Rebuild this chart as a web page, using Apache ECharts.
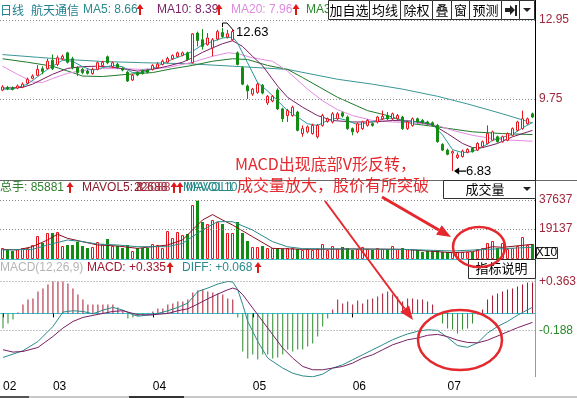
<!DOCTYPE html>
<html>
<head>
<meta charset="utf-8">
<script src="https://cdn.jsdelivr.net/npm/echarts@6/dist/echarts.min.js"></script>
<style>
html, body { margin: 0; padding: 0; background: #fff; }
#chart { width: 577px; height: 398px; }
</style>
</head>
<body>
<div id="chart"></div>
<script>
// 日K线 [开, 收, 低, 高]
const candles = [
  [10.11,10.24,10.07,10.31],[10.22,10.16,10.11,10.28],[10.20,10.14,10.10,10.26],[10.19,10.28,10.15,10.34],[10.23,10.35,10.19,10.42],
  [10.39,10.55,10.35,10.62],[10.59,10.68,10.55,10.75],[10.71,10.95,10.68,11.12],[10.98,10.87,10.75,11.08],[10.98,11.28,10.95,11.38],
  [11.32,10.98,10.92,11.55],[11.15,11.42,11.08,11.51],[11.38,11.48,11.32,11.55],[11.62,11.24,11.19,11.66],[11.38,11.02,10.95,11.46],
  [11.02,10.82,10.68,11.08],[10.95,10.82,10.75,11.02],[10.88,10.79,10.74,10.95],[10.78,10.95,10.74,11.02],[10.95,11.22,10.91,11.27],
  [11.11,11.24,11.06,11.30],[11.46,11.22,11.16,11.51],[11.06,11.22,11.00,11.27],[11.16,11.03,10.98,11.22],[10.99,10.92,10.87,11.04],
  [10.84,10.48,10.44,10.90],[10.52,10.71,10.48,10.76],[10.82,10.72,10.67,10.87],[10.88,10.78,10.74,10.95],[10.92,10.83,10.79,10.98],
  [10.95,11.11,10.90,11.16],[11.02,11.16,10.98,11.24],[11.15,11.28,11.11,11.35],[11.24,11.39,11.20,11.46],[11.38,11.51,11.34,11.56],
  [11.47,11.62,11.43,11.67],[11.52,11.62,11.48,11.67],[11.62,11.35,11.30,11.67],[11.22,12.39,11.19,12.42],[12.42,12.12,11.88,12.48],
  [12.15,11.88,11.75,12.58],[11.95,12.22,11.91,12.42],[11.82,12.15,11.48,12.22],[12.18,12.48,12.12,12.55],[12.44,12.28,12.23,12.63],
  [12.26,12.39,12.20,12.55],[12.15,12.48,12.10,12.55],[11.62,11.15,11.11,11.68],[11.02,10.35,10.31,11.08],[10.28,10.08,9.75,10.34],
  [9.95,10.15,9.88,10.20],[10.02,10.35,9.96,10.42],[10.31,9.99,9.94,10.36],[9.59,9.86,9.51,9.91],[9.67,9.86,9.62,9.91],
  [10.11,9.35,9.30,10.18],[9.35,8.95,8.82,9.40],[9.08,9.28,8.82,9.35],[9.08,9.42,9.03,9.48],[9.22,8.48,8.44,9.27],
  [8.35,8.55,8.22,8.68],[8.42,8.62,8.36,8.68],[8.35,8.68,8.31,8.75],[8.22,8.68,8.15,8.74],[8.68,9.08,8.63,9.15],
  [8.84,8.95,8.79,9.00],[8.82,9.15,8.76,9.22],[8.95,9.15,8.90,9.22],[9.19,9.06,9.00,9.24],[9.02,8.55,8.50,9.08],
  [8.55,8.42,8.28,8.60],[8.42,8.75,8.36,8.80],[8.55,8.82,8.50,8.87],[8.68,8.88,8.63,8.94],[8.75,8.68,8.63,8.80],
  [8.82,9.02,8.76,9.07],[8.95,9.04,8.90,9.28],[9.08,8.95,8.90,9.22],[8.95,9.15,8.90,9.20],[8.95,9.08,8.90,9.14],
  [9.02,8.55,8.50,9.07],[8.55,8.82,8.50,8.87],[8.68,8.95,8.63,9.00],[8.95,8.82,8.76,9.00],[8.88,8.79,8.75,8.94],
  [8.82,8.75,8.71,8.87],[8.79,8.68,8.64,8.84],[8.68,8.02,7.98,8.74],[7.91,7.68,7.64,7.96],[7.68,7.51,7.47,7.74],
  [7.56,7.62,6.83,7.67],[7.38,7.48,7.32,7.59],[7.42,7.64,7.38,7.70],[7.59,7.71,7.55,7.76],[7.75,7.62,7.58,7.80],
  [7.68,7.95,7.64,8.00],[7.82,8.02,7.78,8.07],[7.95,8.35,7.91,8.68],[8.08,8.42,8.04,8.47],[8.22,8.02,7.98,8.27],
  [8.02,8.22,7.98,8.27],[8.08,8.35,8.04,8.40],[8.28,8.55,8.24,8.60],[8.48,8.82,8.44,8.87],[8.55,8.95,8.51,9.28],
  [8.75,8.95,8.71,9.00],[9.15,9.02,8.98,9.20]
];

// 成交量 (X10)
const volumes = [
  7018,5742,5104,6380,7018,7018,8932,14674,10208,16588,
  16588,17226,8294,8932,8932,10846,8294,7018,7656,10846,
  9570,12760,8294,8294,7018,8932,5104,7018,7018,7018,
  9570,8932,7018,17864,13398,17226,15312,15950,34452,37200,
  23606,22330,24882,23606,22330,16588,16588,23606,16588,11484,
  7656,7656,8294,7018,7018,7018,6380,7018,7018,6380,
  5742,6380,5742,6380,9570,5742,8294,6380,7656,7018,
  5742,6380,7656,6380,5742,7018,6380,6380,8294,6380,
  7018,6380,6380,5742,4466,5104,5104,5742,4466,4466,
  4466,4466,4466,4466,4466,6380,7018,10208,11484,7018,
  10208,6380,7018,8294,14036,8932,9570
];

// MACD 柱
const macdBars = [
  -0.168,-0.112,-0.067,0.01,0.101,0.157,0.168,0.246,0.28,0.325,
  0.358,0.358,0.358,0.336,0.28,0.213,0.157,0.101,0.101,0.101,
  0.101,0.101,0.101,0.067,0.034,-0.056,-0.045,-0.034,-0.022,0.005,
  0.022,0.056,0.056,0.101,0.112,0.134,0.134,0.157,0.235,0.258,
  0.269,0.246,0.235,0.224,0.213,0.168,0.157,-0.045,-0.426,-0.504,
  -0.459,-0.515,-0.459,-0.459,-0.504,-0.493,-0.459,-0.403,-0.426,-0.403,
  -0.403,-0.37,-0.336,-0.258,-0.146,-0.056,0.045,0.157,0.112,0.134,
  0.101,0.146,0.112,0.157,0.168,0.19,0.224,0.246,0.213,0.19,
  0.134,0.168,0.168,0.157,0.157,0.134,0.101,0.005,-0.112,-0.168,
  -0.179,-0.224,-0.179,-0.168,-0.112,-0.011,0.045,0.157,0.202,0.224,
  0.246,0.269,0.28,0.302,0.325,0.347,0.347
];

// 均线 [序号, 值]
const ma5 = [[0,10.15],[2,10.15],[5,10.35],[9,10.95],[12,11.32],[14,11.28],[16,11.06],[18,10.91],[20,11.02],[22,11.11],[24,11.06],[26,10.82],[28,10.82],[30,10.98],[33,11.28],[36,11.51],[38,11.68],[40,11.95],[42,12.08],[44,12.22],[46,12.26],[47,12.02],[49,11.22],[51,10.42],[53,10.08],[55,9.68],[57,9.28],[59,9.02],[61,8.75],[63,8.68],[65,8.88],[67,8.98],[69,8.88],[71,8.71],[73,8.79],[75,8.88],[77,8.98],[79,8.95],[81,8.82],[84,8.84],[86,8.71],[88,8.3],[90,7.7],[92,7.58],[94,7.62],[96,7.8],[98,8.07],[100,8.2],[102,8.32],[104,8.58],[106,8.8]];
const ma10 = [[0,10.19],[4,10.22],[6,10.35],[10,10.75],[13,10.99],[16,11.06],[19,11.08],[22,11.04],[25,10.95],[27,10.88],[30,10.95],[33,11.08],[36,11.24],[38,11.42],[40,11.64],[42,11.82],[44,11.99],[46,12.11],[48,11.88],[50,11.48],[52,11.1],[55,10.28],[57,9.82],[60,9.42],[63,9.08],[66,8.88],[70,8.82],[74,8.82],[78,8.88],[82,8.86],[86,8.71],[89,8.35],[92,7.95],[94,7.78],[96,7.78],[99,7.95],[102,8.22],[106,8.48]];
const ma20 = [[0,11.08],[3,10.75],[6,10.44],[8,10.42],[10,10.58],[13,10.79],[16,10.91],[20,10.98],[24,10.98],[28,10.95],[33,11.02],[38,11.24],[42,11.48],[45,11.62],[47,11.59],[50,11.42],[54,11.28],[57,10.88],[61,10.15],[64,9.68],[67,9.32],[70,9.08],[74,8.88],[78,8.82],[82,8.79],[87,8.68],[90,8.48],[94,8.28],[97,8.18],[100,8.1],[106,8.04]];
const ma30 = [[0,11.38],[5,11.24],[10,11.08],[14,10.82],[16,10.68],[20,10.66],[25,10.75],[30,10.82],[34,10.98],[38,11.11],[42,11.28],[46,11.38],[49,11.35],[53,11.11],[57,10.95],[60,10.62],[67,9.82],[73,9.28],[77,9.08],[82,8.75],[87,8.62],[94,8.42],[100,8.35],[106,8.31]];
const ma60 = [[0,11.55],[7,11.44],[13,11.35],[20,11.27],[28,11.22],[37,11.18],[46,11.08],[57,10.95],[67,10.55],[74,10.35],[80,10.15],[87,9.86],[93,9.55],[100,9.15],[106,8.78]];

const mavol5 = [[0,6168],[3,5743],[6,7870],[9,12124],[11,15800],[13,13187],[16,11060],[19,8933],[23,8295],[27,6806],[33,8933],[36,12124],[40,24886],[42,28300],[44,24886],[46,21695],[50,14251],[54,6806],[60,6168],[70,6381],[80,6168],[90,4041],[94,4679],[98,7870],[100,7444],[106,9359]];
const mavol10 = [[0,5743],[6,6168],[9,8933],[13,12124],[16,11060],[19,9571],[23,8933],[27,7870],[33,7870],[36,9997],[40,18505],[43,23822],[46,23822],[50,18505],[54,11060],[57,7800],[60,6600],[80,6168],[90,5105],[97,6168],[106,7444]];

const diff = [[0,-0.493],[4,-0.418],[7,-0.314],[10,-0.146],[12,0.015],[14,0.03],[16,0.022],[18,-0.004],[20,0.037],[22,0.067],[24,0.037],[26,-0.015],[27,-0.03],[30,-0.015],[33,0.03],[35,0.067],[37,0.116],[39,0.246],[41,0.284],[43,0.329],[45,0.358],[46,0.351],[47,0.265],[48,0.097],[49,-0.09],[51,-0.314],[53,-0.5],[54,-0.538],[56,-0.612],[58,-0.67],[60,-0.7],[62,-0.71],[64,-0.68],[66,-0.612],[68,-0.575],[70,-0.519],[72,-0.463],[74,-0.407],[76,-0.351],[78,-0.295],[80,-0.25],[81,-0.23],[83,-0.2],[85,-0.183],[87,-0.19],[89,-0.27],[91,-0.36],[93,-0.38],[95,-0.33],[97,-0.22],[99,-0.146],[101,-0.09],[103,-0.02],[105,0.04],[106,0.068]];
const dea = [[0,-0.407],[2,-0.433],[4,-0.426],[7,-0.381],[10,-0.258],[12,-0.164],[14,-0.09],[16,-0.045],[18,-0.022],[20,0],[22,0.022],[24,0.03],[26,0],[27,-0.015],[30,-0.015],[33,0],[35,0.03],[37,0.052],[39,0.105],[41,0.164],[43,0.217],[45,0.265],[46,0.284],[47,0.265],[48,0.209],[49,0.134],[51,-0.015],[53,-0.164],[54,-0.239],[56,-0.388],[58,-0.5],[60,-0.594],[62,-0.631],[64,-0.631],[66,-0.612],[68,-0.594],[70,-0.556],[72,-0.5],[74,-0.463],[76,-0.407],[78,-0.351],[80,-0.314],[81,-0.295],[83,-0.276],[85,-0.245],[87,-0.235],[89,-0.26],[91,-0.3],[93,-0.325],[95,-0.33],[97,-0.3],[100,-0.23],[103,-0.16],[106,-0.1]];

const monthStart = [0, 10, 30, 50, 70, 89];
const monthNames = ['02', '03', '04', '05', '06', '07'];
const priceTicks = [12.95, 9.75];
const volTicks = [37637, 19137];
const macdTicks = [0.363, -0.188];

const FONT = '"Liberation Sans", "Noto Sans CJK SC", sans-serif';
const CJK = '"Noto Sans CJK SC", sans-serif';
const RED = '#e8161c';
const GREEN = '#138c13';
const cats = candles.map((c, i) => String(i));

const chart = echarts.init(document.getElementById('chart'));

function tickLines(vals, colors, fmt) {
  return {
    silent: true, symbol: ['none', 'none'], animation: false,
    lineStyle: {type: [1, 2], color: '#8a8a8a', width: 1},
    label: {position: 'end', fontSize: 12, fontFamily: FONT, distance: 4},
    data: vals.map((v, k) => ({yAxis: v, label: {formatter: fmt(v), color: colors[k]}}))
  };
}

function line(data, color, xi) {
  return {type: 'line', xAxisIndex: xi, yAxisIndex: xi, data: data, symbol: 'none',
    lineStyle: {color: color, width: 1}, silent: true, z: 3};
}

// graphic helpers
function txt(x, y, s, fill, font, align, z) {
  return {type: 'text', x: x, y: y, z: z || 100,
    style: {text: s, fill: fill, font: font || ('12px ' + FONT), textAlign: align || 'left', align: align || 'left',
      textVerticalAlign: 'middle', verticalAlign: 'middle'}};
}
function box(x, y, w, h, z) {
  return {type: 'rect', z: z || 90, shape: {x: x + 0.5, y: y + 0.5, width: w, height: h},
    style: {fill: '#fff', stroke: '#303030', lineWidth: 1}};
}
function seg(x1, y1, x2, y2, color, w, z) {
  return {type: 'line', z: z || 95, shape: {x1: x1, y1: y1, x2: x2, y2: y2}, style: {stroke: color, lineWidth: w || 1}};
}
function arrow(x1, y1, x2, y2, w, color) {
  const a = Math.atan2(y2 - y1, x2 - x1), L = 14, W = 5.5;
  const bx = x2 - L * Math.cos(a), by = y2 - L * Math.sin(a);
  const nx = -Math.sin(a) * W, ny = Math.cos(a) * W;
  return [seg(x1, y1, bx, by, color, w, 110),
    {type: 'polygon', z: 110, shape: {points: [[x2, y2], [bx + nx, by + ny], [bx - nx, by - ny]]}, style: {fill: color}}];
}
// 红色上升箭头
function up(x, y) {
  return {type: 'polygon', z: 100, style: {fill: '#e01818'},
    shape: {points: [[x + 3, y - 6], [x + 6.5, y - 1], [x + 4, y - 1], [x + 4, y + 5], [x + 2, y + 5], [x + 2, y - 1], [x - 0.5, y - 1]]}};
}

const ANN = '#e4282e';
const graphics = [
  // frame
  seg(0, 180.5, 577, 180.5, '#6a6a6a', 1, 80),
  seg(535.5, 0, 535.5, 259, '#000', 1, 80),
  seg(535.5, 259, 535.5, 377, '#3cc0d0', 1, 80),
  // header
  txt(0, 10, '日线', '#1f7f8f', '12px ' + CJK),
  txt(31, 10, '航天通信', '#1f7f8f', '12px ' + CJK),
  txt(83, 10, 'MA5: 8.66', '#2a8a8a'), up(137, 10),
  txt(157, 10, 'MA10: 8.39', '#7a1f66'), up(216, 10),
  txt(231, 10, 'MA20: 7.96', '#e08ae0'), up(293, 10),
  txt(306, 10, 'MA30: 8.12', '#2a8a2a'),
  // volume header
  txt(0, 188, '总手: 85881', '#2f7f2f'), up(67, 188),
  txt(82, 188, 'MAVOL5: 8', '#8b1a2a'),
  txt(134, 188, '22688', '#8b1a2a'), txt(137, 188, '12088', '#b03a4a'),
  up(171, 188), up(177, 188),
  txt(183, 188, 'MAVOL10', '#2a8a8a'), txt(186, 188, 'MAVOL1', '#2a8a8a'),
  // MACD header
  txt(0, 268, 'MACD(12,26,9)', '#b4b4b4'),
  txt(87, 268, 'MACD: +0.335', '#a0182f'), up(167, 268),
  txt(182, 268, 'DIFF: +0.068', '#2a8a8a'), up(255, 268),
  // high marker
  {type: 'polyline', z: 95, shape: {points: [[222.5, 27], [222.5, 23], [227, 23], [234, 31]]}, style: {stroke: '#000', lineWidth: 1, fill: null}},
  // boxes
  box(443, 180, 92, 18),
  txt(485, 189, '成交量', '#000', '13px ' + CJK, 'center'),
  {type: 'polygon', z: 100, shape: {points: [[523, 187], [531, 187], [527, 191]]}, style: {fill: '#222'}},
  box(468, 259, 67, 19, 105),
  txt(501.5, 268.5, '指标说明', '#000', '13px ' + CJK, 'center', 106),
  box(536, 247, 21, 11),
  txt(546.5, 252.5, 'X10', '#000', '12px ' + FONT, 'center'),
  // bottom strip
  {type: 'rect', z: 80, shape: {x: 0, y: 396, width: 577, height: 2}, style: {fill: '#c8c8c8'}},
  {type: 'rect', z: 81, shape: {x: 0, y: 396, width: 29, height: 2}, style: {fill: '#555'}},
  {type: 'rect', z: 81, shape: {x: 129, y: 396, width: 55, height: 2}, style: {fill: '#333'}},
  // annotation
  txt(235, 164, 'MACD出现底部V形反转，', ANN, '16px ' + CJK),
  txt(237, 185, '成交量放大，股价有所突破', ANN, '16px ' + CJK),
  {type: 'ellipse', z: 108, shape: {cx: 479, cy: 247, rx: 26, ry: 20}, style: {fill: null, stroke: ANN, lineWidth: 2.5}},
  {type: 'ellipse', z: 108, shape: {cx: 460, cy: 340, rx: 42, ry: 30}, style: {fill: null, stroke: ANN, lineWidth: 2.5}}
].concat(arrow(382, 197, 451, 237, 3, ANN), arrow(325, 201, 413, 320, 2, ANN));

// toolbar
const tools = [['加自选', 328, 369], ['均线', 369, 400], ['除权', 400, 432], ['叠', 432, 451], ['窗', 451, 469], ['预测', 469, 501], ['', 501, 519], ['', 519, 534]];
tools.forEach(t => {
  graphics.push(box(t[1], 0, t[2] - t[1], 19, 120));
  if (t[0]) graphics.push(txt((t[1] + t[2]) / 2 + 0.5, 10, t[0], '#000', '13px ' + CJK, 'center', 121));
});
graphics.push({type: 'polygon', z: 121, shape: {points: [[505, 8], [510, 8], [510, 5], [515, 10], [510, 15], [510, 12], [505, 12]]}, style: {fill: '#222'}});
graphics.push({type: 'rect', z: 121, shape: {x: 515, y: 5, width: 2, height: 11}, style: {fill: '#222'}});
graphics.push({type: 'polygon', z: 121, shape: {points: [[523, 8], [531, 8], [527, 12]]}, style: {fill: '#222'}});

const isMonth = (i) => monthStart.indexOf(i) >= 0;

chart.setOption({
  animation: false,
  backgroundColor: '#fff',
  grid: [
    {left: 0, right: 42, top: 20, height: 160},
    {left: 0, right: 42, top: 200, height: 59},
    {left: 0, right: 42, top: 281, height: 96}
  ],
  xAxis: [0, 1, 2].map(g => ({
    type: 'category', gridIndex: g, data: cats, boundaryGap: true,
    axisLine: {show: g > 0, lineStyle: {color: '#3cc0d0', width: 1}},
    axisTick: {show: g === 2, alignWithLabel: true, interval: isMonth, length: 4, lineStyle: {color: '#000'}},
    axisLabel: {show: g === 2, interval: isMonth, formatter: (v, i) => monthNames[monthStart.indexOf(i)],
      align: 'left', color: '#000', fontSize: 12, fontFamily: FONT, margin: 4},
    splitLine: {show: false}
  })),
  yAxis: [
    {gridIndex: 0, min: 6.47, max: 12.95},
    {gridIndex: 1, min: 0, max: 37637},
    {gridIndex: 2, min: -0.712, max: 0.363}
  ].map(a => Object.assign(a, {type: 'value', position: 'right',
    axisLine: {show: false}, axisTick: {show: false}, axisLabel: {show: false}, splitLine: {show: false}})),
  series: [
    {
      type: 'candlestick', xAxisIndex: 0, yAxisIndex: 0, data: candles, barWidth: 3, z: 4,
      itemStyle: {color: '#fff', color0: GREEN, borderColor: RED, borderColor0: GREEN, borderWidth: 1},
      markLine: tickLines(priceTicks, ['#a0283c', '#a0283c'], v => v.toFixed(2)),
      markPoint: {
        symbol: 'circle', symbolSize: 1, itemStyle: {color: 'rgba(0,0,0,0)'}, animation: false,
        label: {show: true, position: 'right', color: '#000', fontSize: 13, fontFamily: FONT},
        data: [
          {coord: [cats[44], 12.63], label: {formatter: '12.63', offset: [8, 5]}},
          {coord: [cats[90], 6.83], symbol: 'path://M0,5 L6,0 L6,4 L14,4 L14,6 L6,6 L6,10 Z',
            symbolSize: [12, 7], symbolOffset: [7.5, 0], itemStyle: {color: '#000'}, label: {show: false}},
          {coord: [cats[90], 6.83], label: {formatter: '6.83', offset: [8, 0]}}
        ]
      }
    },
    line(ma60, '#3c9696', 0),
    line(ma30, '#1f7a2a', 0),
    line(ma20, '#e28be2', 0),
    line(ma10, '#7a1f66', 0),
    line(ma5, '#2a9a9a', 0),
    {
      type: 'bar', xAxisIndex: 1, yAxisIndex: 1, barWidth: 3, silent: true,
      data: volumes.map((v, i) => ({
        value: v,
        itemStyle: candles[i][1] >= candles[i][0]
          ? {color: '#fff', borderColor: RED, borderWidth: 1}
          : {color: GREEN}
      })),
      markLine: tickLines(volTicks, ['#a0283c', '#a0283c'], v => String(v))
    },
    line(mavol5, '#8b1020', 1),
    line(mavol10, '#2a8a8a', 1),
    {
      type: 'bar', xAxisIndex: 2, yAxisIndex: 2, barWidth: 1, silent: true,
      data: macdBars,
      itemStyle: {color: p => p.value >= 0 ? '#a8172f' : '#2a8a2a'},
      markLine: tickLines(macdTicks, ['#a0283c', '#2a8a2a'], v => (v > 0 ? '+' : '') + v.toFixed(3))
    },
    line(diff, '#2a8a8a', 2),
    line(dea, '#7a1f66', 2)
  ],
  graphic: graphics
});
</script>
</body>
</html>
